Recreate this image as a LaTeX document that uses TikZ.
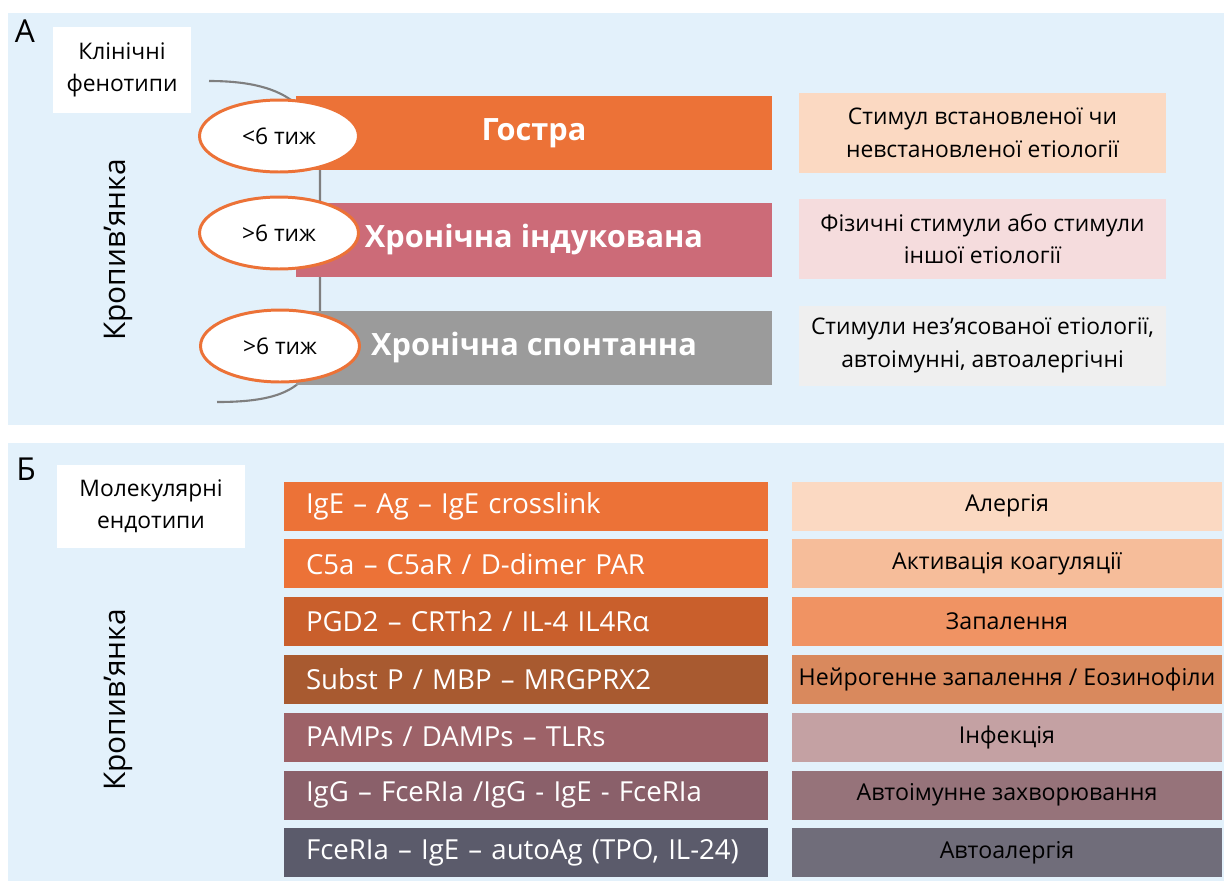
\documentclass[tikz,border=0pt]{standalone}
\usepackage{fontspec}
\setmainfont{Open Sans}
\usetikzlibrary{shapes.geometric}

\definecolor{panelbg}{HTML}{E3F1FB}
\definecolor{acute}{HTML}{EC7237}
\definecolor{induced}{HTML}{CC6B78}
\definecolor{spont}{HTML}{9B9B9B}
\definecolor{acuteL}{HTML}{FBD9C2}
\definecolor{inducedL}{HTML}{F5DCDD}
\definecolor{spontL}{HTML}{EFEFEF}
\definecolor{curvegray}{HTML}{7F7F7F}

\definecolor{bA}{HTML}{EC7237}
\definecolor{bB}{HTML}{EC7237}
\definecolor{bC}{HTML}{C95F2C}
\definecolor{bD}{HTML}{A85A30}
\definecolor{bE}{HTML}{9D6268}
\definecolor{bF}{HTML}{8A606A}
\definecolor{bG}{HTML}{5B5B6B}
\definecolor{cA}{HTML}{FBD9C2}
\definecolor{cB}{HTML}{F6BD9A}
\definecolor{cC}{HTML}{F09363}
\definecolor{cD}{HTML}{D9895D}
\definecolor{cE}{HTML}{C4A1A3}
\definecolor{cF}{HTML}{96737A}
\definecolor{cG}{HTML}{706D7A}

\begin{document}
\begin{tikzpicture}[x=0.02cm,y=-0.02cm,
	barA/.style={minimum width=9.52cm,minimum height=1.48cm,inner sep=0pt,text=white,font=\fontsize{17.5}{21}\selectfont\bfseries},
	causeA/.style={minimum width=7.34cm,minimum height=1.6cm,inner sep=0pt,align=center,font=\fontsize{13}{18.5}\selectfont},
	weeks/.style={ellipse,draw=acute,line width=1.7pt,fill=white,minimum width=3.18cm,minimum height=1.44cm,inner sep=0pt,font=\fontsize{13}{15}\selectfont},
	barB/.style={minimum width=9.68cm,minimum height=0.98cm,inner sep=0pt,text=white,font=\fontsize{15.7}{18}\selectfont},
	causeB/.style={minimum width=8.6cm,minimum height=0.98cm,inner sep=0pt,font=\fontsize{13.2}{15}\selectfont},
	titlebox/.style={fill=white,inner sep=0pt,align=center,font=\fontsize{13}{18.5}\selectfont},
	urtlabel/.style={rotate=90,font=\fontsize{17}{20}\selectfont},
	panelmark/.style={font=\fontsize{18}{20}\selectfont}]
		
		\useasboundingbox (0,0) rectangle (1226,883);
		
		% Hintergrund der beiden Felder
		\fill[panelbg] (8,13) rectangle (1224,425);
		\fill[panelbg] (8,443) rectangle (1224,881);
		
		
		% Feld A
		\node[panelmark] (markA) at (25,31) {А};
		\node[titlebox,minimum width=2.76cm,minimum height=1.74cm] (phen) at (122,70) {Клінічні\\фенотипи};
		\node[urtlabel] (urtA) at (118,250) {Кропив’янка};
		
		% Klammer
		\draw[curvegray,line width=1.2pt] (209,81) .. controls (290,81) and (320,110) .. (320,170)
			-- (320,320) .. controls (320,385) and (290,402) .. (217,402);
		
		% Balken
		\node[barA,fill=acute] (acuteBar) at (534,133) {Гостра};
		\node[barA,fill=induced] (inducedBar) at (534,239.5) {Хронічна індукована};
		\node[barA,fill=spont] (spontBar) at (534,347.5) {Хронічна спонтанна};
		
		% Dauer
		\node[weeks] (wk1) at (279,136) {<6 тиж};
		\node[weeks] (wk2) at (279,233) {>6 тиж};
		\node[weeks] (wk3) at (280,346) {>6 тиж};
		
		% Ursachen
		\node[causeA,fill=acuteL] (acuteCause) at (982.5,133) {Стимул встановленої чи\\невстановленої етіології};
		\node[causeA,fill=inducedL] (inducedCause) at (982.5,239) {Фізичні стимули або стимули\\іншої етіології};
		\node[causeA,fill=spontL] (spontCause) at (982.5,345.5) {Стимули нез’ясованої етіології,\\автоімунні, автоалергічні};
		
		
		% Feld B
		\node[panelmark] (markB) at (26,469) {Б};
		\node[titlebox,minimum width=3.76cm,minimum height=1.66cm] (endo) at (151,506) {Молекулярні\\ендотипи};
		\node[urtlabel] (urtB) at (118,700) {Кропив’янка};
		
		% Endotypen und Ursachen
		\foreach \i/\col/\ecol/\endotype/\cause in {
			0/bA/cA/{IgE – Ag – IgE crosslink}/{Алергія},
			1/bB/cB/{C5a – C5aR / D-dimer PAR}/{Активація коагуляції},
			2/bC/cC/{PGD2 – CRTh2 / IL-4 IL4Rα}/{Запалення},
			3/bD/cD/{Subst P / MBP – MRGPRX2}/{Нейрогенне запалення / Еозинофіли},
			4/bE/cE/{PAMPs / DAMPs – TLRs}/{Інфекція},
			5/bF/cF/{IgG – FceRIa /IgG - IgE - FceRIa}/{Автоімунне захворювання},
			6/bG/cG/{FceRIa – IgE – autoAg (TPO, IL-24)}/{Автоалергія}}{
			\node[barB,fill=\col,text width=8.8cm,align=left] (endo\i) at (526,506+57.8*\i) {\endotype};
			\node[causeB,fill=\ecol] (cause\i) at (1007,506+57.8*\i) {\cause};
		}
		
		
	\end{tikzpicture}
\end{document}
